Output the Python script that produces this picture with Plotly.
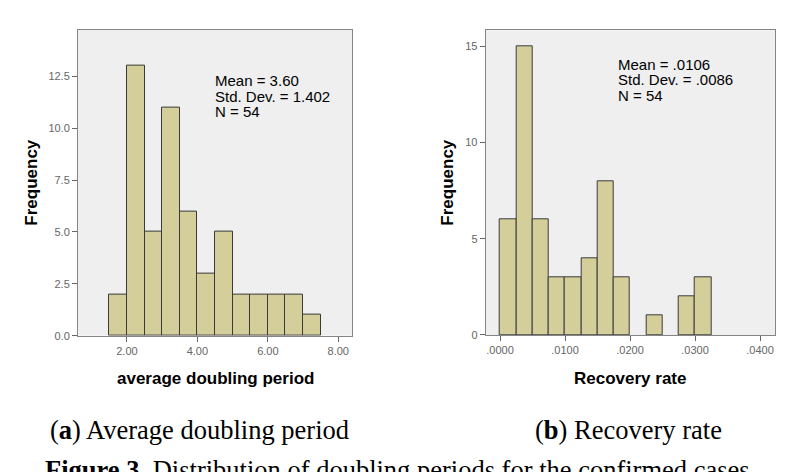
import plotly.graph_objects as go

# ---- data ----
doubling_bin_centers = [1.75, 2.25, 2.75, 3.25, 3.75, 4.25, 4.75, 5.25, 5.75, 6.25, 6.75, 7.25]
doubling_counts = [2, 13, 5, 11, 6, 3, 5, 2, 2, 2, 2, 1]
doubling_bin_width = 0.5
doubling_xticks = [2.0, 4.0, 6.0, 8.0]
doubling_xtick_labels = ["2.00", "4.00", "6.00", "8.00"]
doubling_yticks = [0, 2.5, 5.0, 7.5, 10.0, 12.5]
doubling_ytick_labels = ["0.0", "2.5", "5.0", "7.5", "10.0", "12.5"]
doubling_stats = ["Mean = 3.60", "Std. Dev. = 1.402", "N = 54"]

recovery_bin_centers = [0.00125, 0.00375, 0.00625, 0.00875, 0.01125, 0.01375, 0.01625,
                        0.01875, 0.02125, 0.02375, 0.02625, 0.02875, 0.03125]
recovery_counts = [6, 15, 6, 3, 3, 4, 8, 3, 0, 1, 0, 2, 3]
recovery_bin_width = 0.0025
recovery_xticks = [0.0, 0.01, 0.02, 0.03, 0.04]
recovery_xtick_labels = [".0000", ".0100", ".0200", ".0300", ".0400"]
recovery_yticks = [0, 5, 10, 15]
recovery_ytick_labels = ["0", "5", "10", "15"]
recovery_stats = ["Mean = .0106", "Std. Dev. = .0086", "N = 54"]

# ---- style ----
W, H = 793, 472
BAR_FILL = "#D4CF9A"
BAR_LINE = "#3A3A3A"
PLOT_BG = "#EFEFEF"
FRAME = "#858585"
TICK_COLOR = "#666666"
SANS = "Liberation Sans, Arial, sans-serif"
SERIF = "Liberation Serif, Times New Roman, serif"


def px_x(p):
    return p / W


def px_y(p):
    return (H - p) / H


fig = go.Figure()

fig.add_trace(go.Bar(
    x=doubling_bin_centers, y=doubling_counts, width=doubling_bin_width,
    marker=dict(color=BAR_FILL,
                line=dict(color=BAR_LINE, width=[1 if c > 0 else 0 for c in doubling_counts])),
    xaxis="x", yaxis="y", showlegend=False, hoverinfo="x+y"))

fig.add_trace(go.Bar(
    x=recovery_bin_centers, y=recovery_counts, width=recovery_bin_width,
    marker=dict(color=BAR_FILL,
                line=dict(color=BAR_LINE, width=[1 if c > 0 else 0 for c in recovery_counts])),
    xaxis="x2", yaxis="y2", showlegend=False, hoverinfo="x+y"))

axis_common = dict(
    showgrid=False, zeroline=False, showline=True, linecolor=FRAME, linewidth=1,
    mirror=True, ticks="outside", ticklen=5, tickwidth=1, tickcolor=TICK_COLOR,
    tickfont=dict(family=SANS, size=11, color=TICK_COLOR), fixedrange=True,
)

fig.update_layout(
    width=W, height=H,
    margin=dict(l=0, r=0, t=0, b=0),
    paper_bgcolor="white",
    plot_bgcolor=PLOT_BG,
    bargap=0,
    xaxis=dict(domain=[px_x(78), px_x(352)], range=[0.61, 8.39], anchor="y",
               tickmode="array", tickvals=doubling_xticks, ticktext=doubling_xtick_labels,
               **axis_common),
    yaxis=dict(domain=[px_y(340), px_y(30)], range=[0, 14.75], anchor="x",
               tickmode="array", tickvals=doubling_yticks, ticktext=doubling_ytick_labels,
               **axis_common),
    xaxis2=dict(domain=[px_x(485.7), px_x(775)], range=[-0.0022, 0.0423], anchor="y2",
                tickmode="array", tickvals=recovery_xticks, ticktext=recovery_xtick_labels,
                **axis_common),
    yaxis2=dict(domain=[px_y(339.3), px_y(30.7)], range=[0, 15.82], anchor="x2",
                tickmode="array", tickvals=recovery_yticks, ticktext=recovery_ytick_labels,
                **axis_common),
)

annotations = []


def paper_text(text, x, y, size, family=SANS, color="black", xanchor="center",
               textangle=0):
    annotations.append(dict(
        text=text, x=px_x(x), y=px_y(y), xref="paper", yref="paper",
        xanchor=xanchor, yanchor="middle", showarrow=False, textangle=textangle,
        font=dict(family=family, size=size, color=color)))


# stats boxes
for line, yy in zip(doubling_stats, [82, 97.5, 113]):
    paper_text(line, 213, yy, 15, xanchor="left")
for line, yy in zip(recovery_stats, [65, 80.5, 96.5]):
    paper_text(line, 615.7, yy, 15, xanchor="left")

# axis titles
paper_text("<b>Frequency</b>", 32, 185, 17, textangle=-90)
paper_text("<b>Frequency</b>", 448, 185, 17, textangle=-90)
paper_text("<b>average doubling period</b>", 215, 383, 17)
paper_text("<b>Recovery rate</b>", 630, 383, 17)

# captions
paper_text("(<b>a</b>) Average doubling period", 199, 436, 26.5, family=SERIF)
paper_text("(<b>b</b>) Recovery rate", 628.5, 436, 26.5, family=SERIF)
paper_text("<b>Figure 3.</b> Distribution of doubling periods for the confirmed cases",
           43, 476, 26.5, family=SERIF, xanchor="left")

fig.update_layout(annotations=annotations)

fig.write_html("out.html")
